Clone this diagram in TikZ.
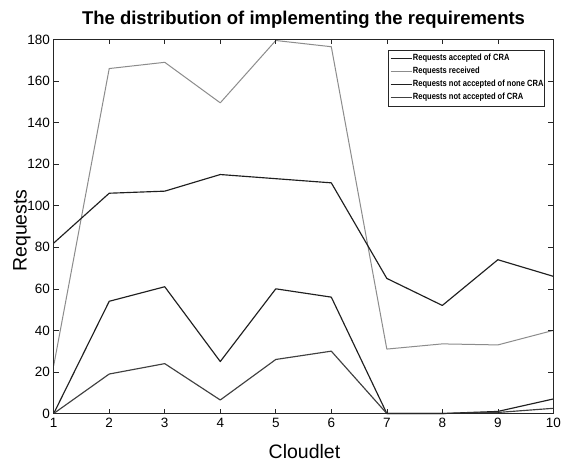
\documentclass[tikz,border=0pt]{standalone}
\usepackage{fontspec}
\setmainfont{Liberation Sans}
\usetikzlibrary{positioning}

\begin{document}
\begin{tikzpicture}[
  x=1pt,y=1pt,
  ticklab/.style={font=\fontsize{13.5}{15}\selectfont,inner sep=0pt},
  axlab/.style={font=\fontsize{19.5}{21}\selectfont,inner sep=0pt},
  legtext/.style={font=\fontsize{9}{10}\selectfont\bfseries,inner sep=0pt,xscale=0.84},
  axisbox/.style={draw=black!85,line width=0.8pt},
  tickmark/.style={draw=black!85,line width=0.6pt},
  series/.style={line width=1.15pt,line join=round},
  acc/.style={series,draw=black!88},
  rcv/.style={series,draw=black!45,line width=1pt},
  nnc/.style={series,draw=black!88},
  nc/.style={series,draw=black!75}
]
\useasboundingbox (0,0) rectangle (568,461);
\fill[white] (0,0) rectangle (568,461);

% title
\node[font=\fontsize{18.5}{20}\selectfont\bfseries,inner sep=0pt,anchor=base] (title) at (303.5,436.5)
  {The distribution of implementing the requirements};

% plot area, data units
\begin{scope}[shift={(-1.82pt,47.5pt)},x=55.52pt,y=2.078pt]
  % series
  \draw[rcv] (1,23) -- (2,166) -- (3,169) -- (4,149.5) -- (5,179.5) -- (6,176.5) -- (7,31) -- (8,33.5) -- (9,33) -- (10,40);
  \draw[acc] (1,82) -- (2,106) -- (3,107) -- (4,115) -- (5,113) -- (6,111) -- (7,65) -- (8,52) -- (9,74) -- (10,66);
  \draw[nnc] (1,0) -- (2,54) -- (3,61) -- (4,25) -- (5,60) -- (6,56) -- (7,0) -- (8,0) -- (9,1) -- (10,7);
  \draw[nc] (1,0) -- (2,19) -- (3,24) -- (4,6.5) -- (5,26) -- (6,30) -- (7,0) -- (8,0) -- (9,0.5) -- (10,2.5);

  % frame and ticks
  \draw[axisbox] (1,0) rectangle (10,180);
  \foreach \i in {2,...,9} {
    \draw[tickmark] (\i,0) -- ++(0,5pt);
    \draw[tickmark] (\i,180) -- ++(0,-5pt);
  }
  \foreach \v in {20,40,...,160} {
    \draw[tickmark] (1,\v) -- ++(5pt,0);
    \draw[tickmark] (10,\v) -- ++(-5pt,0);
  }
  \foreach \i in {1,...,10}
    \node[ticklab,anchor=north] (xt\i) at ([yshift=-4.5pt]\i,0) {\i};
  \foreach \v in {0,20,...,180}
    \node[ticklab,anchor=east] (yt\v) at ([xshift=-3.5pt]1,\v) {\v};
\end{scope}

% axis labels
\node[axlab,anchor=base] (xlab) at (304.5,3) {Cloudlet};
\node[axlab,anchor=base,rotate=90] (ylab) at (26.5,230.5) {Requests};

% legend
\draw[line width=0.6pt,draw=black!85,fill=white] (388.3,355) rectangle (544.5,411);
\foreach \lab/\sty [count=\k] in {Requests accepted of CRA/acc,Requests received/rcv,Requests not accepted of none CRA/nnc,Requests not accepted of CRA/nc} {
  \draw[\sty] (390.5,{415.7-13*\k}) -- ++(21.5,0);
  \node[legtext,anchor=west] (leg\k) at (412.7,{415.7-13*\k}) {\lab};
}
\end{tikzpicture}
\end{document}
